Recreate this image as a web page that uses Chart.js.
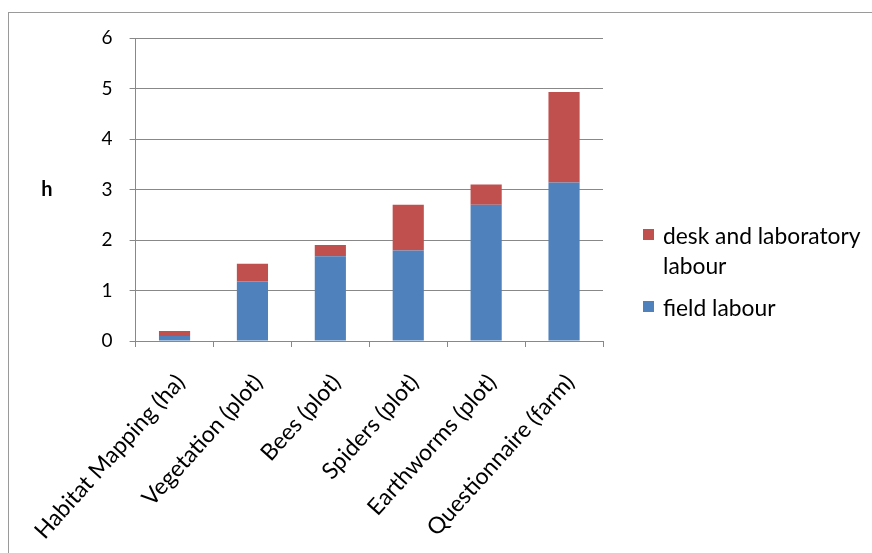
<!DOCTYPE html>
<html>
<head>
<meta charset="utf-8">
<script src="https://cdn.jsdelivr.net/npm/chart.js@4/dist/chart.umd.min.js"></script>
<style>
  html, body { margin: 0; padding: 0; background: #fff; }
  #wrap { position: relative; width: 872px; height: 553px; overflow: hidden; }
  #frame { position: absolute; left: 8px; top: 12px; width: 900px; height: 600px; border: 1.5px solid #9a9a9a; }
  #chart { position: absolute; left: 0; top: 0; }
  .legend { position: absolute; left: 643px; top: 220px; font-family: Lato, sans-serif; font-size: 22.8px; color: #000; line-height: 30px; }
  .legend .item { position: relative; padding-left: 20px; }
  .legend .item + .item { margin-top: 12px; }
  .legend .swatch { position: absolute; left: 0; top: 9px; width: 11px; height: 11px; }
</style>
</head>
<body>
<div id="wrap">
  <div id="frame"></div>
  <canvas id="chart" width="872" height="553"></canvas>
  <div class="legend" id="legend"></div>
</div>
<script>
// hours per unit, split by kind of work
const categories = ['Habitat Mapping (ha)', 'Vegetation (plot)', 'Bees (plot)', 'Spiders (plot)', 'Earthworms (plot)', 'Questionnaire (farm)'];
const fieldLabour = [0.1, 1.18, 1.68, 1.79, 2.7, 3.14];
const deskLabour = [0.1, 0.35, 0.22, 0.91, 0.4, 1.79];
const yTicks = [0, 1, 2, 3, 4, 5, 6];

const RED = '#C0504D';
const BLUE = '#4F81BD';

// "h" sits upright beside the value axis
const axisLabel = {
  id: 'axisLabel',
  afterDraw(chart) {
    const ctx = chart.ctx;
    ctx.save();
    ctx.font = 'bold 20px Lato, sans-serif';
    ctx.fillStyle = '#000';
    ctx.textAlign = 'center';
    ctx.textBaseline = 'middle';
    ctx.fillText('h', 47, 190);
    ctx.restore();
  }
};

new Chart(document.getElementById('chart'), {
  type: 'bar',
  data: {
    labels: categories,
    datasets: [
      { label: 'field labour', data: fieldLabour, backgroundColor: BLUE },
      { label: 'desk and laboratory labour', data: deskLabour, backgroundColor: RED }
    ]
  },
  options: {
    responsive: false,
    animation: false,
    events: [],
    categoryPercentage: 0.4,
    barPercentage: 1,
    layout: { padding: { top: 38, right: 269, left: 0, bottom: 0 } },
    plugins: { legend: { display: false }, tooltip: { enabled: false } },
    scales: {
      x: {
        stacked: true,
        afterFit: s => { s.height = 212; },
        border: { color: '#888', width: 1 },
        grid: { drawOnChartArea: false, drawTicks: true, tickLength: 6, color: '#888' },
        ticks: {
          color: '#000', padding: 22, labelOffset: 6, minRotation: 48, maxRotation: 48,
          font: { family: 'Lato, sans-serif', size: 23 }
        }
      },
      y: {
        stacked: true,
        min: 0, max: 6,
        afterFit: s => { s.width = 134; },
        afterBuildTicks: s => { s.ticks = yTicks.map(v => ({ value: v })); },
        border: { color: '#888', width: 1 },
        grid: { color: '#888', tickLength: 6 },
        ticks: {
          color: '#000', padding: 17,
          font: { family: 'Lato, sans-serif', size: 19 }
        }
      }
    }
  },
  plugins: [axisLabel]
});

// legend, listed top series first
const legend = document.getElementById('legend');
[['desk and laboratory<br>labour', RED], ['field labour', BLUE]].forEach(([text, color]) => {
  const item = document.createElement('div');
  item.className = 'item';
  item.innerHTML = '<span class="swatch" style="background:' + color + '"></span>' + text;
  legend.appendChild(item);
});
</script>
</body>
</html>
